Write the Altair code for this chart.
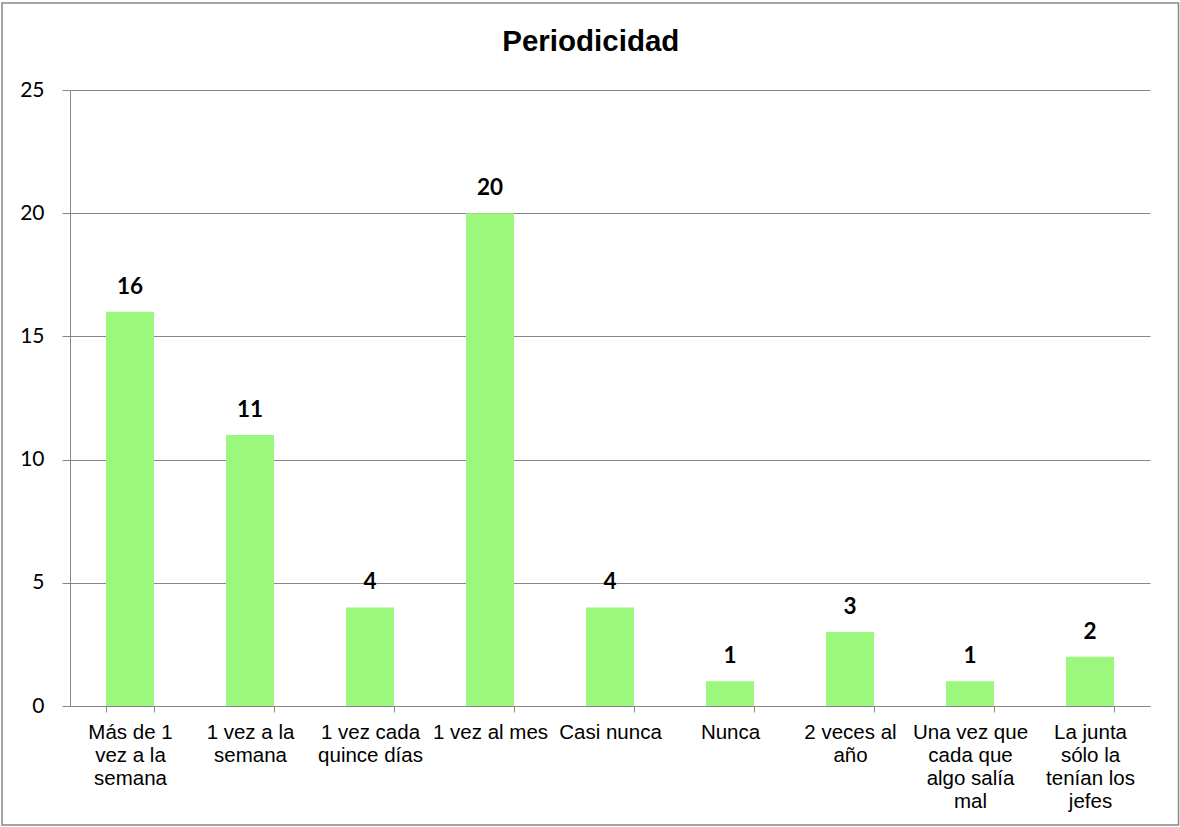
import altair as alt
import pandas as pd

# Categories (line breaks mark how each axis label wraps) and counts
CATEGORIES = [
    "Más de 1\nvez a la\nsemana",
    "1 vez a la\nsemana",
    "1 vez cada\nquince días",
    "1 vez al mes",
    "Casi nunca",
    "Nunca",
    "2 veces al\naño",
    "Una vez que\ncada que\nalgo salía\nmal",
    "La junta\nsólo la\ntenían los\njefes",
]
COUNTS = [16, 11, 4, 20, 4, 1, 3, 1, 2]
Y_TICKS = [0, 5, 10, 15, 20, 25]
TITLE = "Periodicidad"

GRAY = "#868686"
GREEN = "#9CF77D"

df = pd.DataFrame({"categoria": CATEGORIES, "valor": COUNTS})

x_enc = alt.X(
    "categoria:N",
    sort=None,
    title=None,
    scale=alt.Scale(paddingInner=0.6, paddingOuter=0.3),
    axis=alt.Axis(
        labelAngle=0,
        labelExpr="split(datum.label, '\\n')",
        labelFont="Liberation Sans",
        labelFontSize=20.5,
        labelLineHeight=23,
        labelColor="#000000",
        labelLimit=0,
        labelPadding=10,
        labelBaseline="top",
        tickBand="extent",
        tickSize=6,
        tickColor=GRAY,
        domainColor=GRAY,
        grid=False,
    ),
)

y_enc = alt.Y(
    "valor:Q",
    title=None,
    scale=alt.Scale(domain=[0, 25], nice=False, zero=True),
    axis=alt.Axis(
        values=Y_TICKS,
        labelFont="Lato",
        labelFontSize=21,
        labelColor="#000000",
        labelPadding=18,
        tickSize=8,
        tickColor=GRAY,
        domainColor=GRAY,
        gridColor=GRAY,
        grid=True,
    ),
)

base = alt.Chart(df)

bars = base.mark_bar(color=GREEN).encode(x=x_enc, y=y_enc)

labels = base.mark_text(
    font="Lato",
    fontSize=22.5,
    fontWeight="bold",
    color="#000000",
    baseline="alphabetic",
    dy=-18,
).encode(x=alt.X("categoria:N", sort=None), y="valor:Q", text="valor:Q")

single = pd.DataFrame({"titulo": [TITLE]})

# Chart heading, centred on the whole frame
heading = alt.Chart(single).mark_text(
    font="Liberation Sans",
    fontSize=29.5,
    fontWeight="bold",
    color="#000000",
    align="center",
    baseline="alphabetic",
).encode(
    x=alt.value(520.8),
    y=alt.value(-39.5),
    text="titulo:N",
)

# Outer frame around the whole chart
frame = alt.Chart(single).mark_rect(
    fill=None, stroke=GRAY, strokeWidth=1.5
).encode(
    x=alt.value(-68),
    x2=alt.value(1108.5),
    y=alt.value(-87),
    y2=alt.value(735),
)

chart = (
    alt.layer(bars, labels, heading, frame)
    .properties(
        width=1080,
        height=616,
        autosize=alt.AutoSizeParams(type="none"),
        padding={"left": 70, "top": 90, "right": 30, "bottom": 121},
        background="#FFFFFF",
    )
    .configure_view(stroke=None)
)

chart.save("out.html", embed_options={"renderer": "svg", "actions": False})
